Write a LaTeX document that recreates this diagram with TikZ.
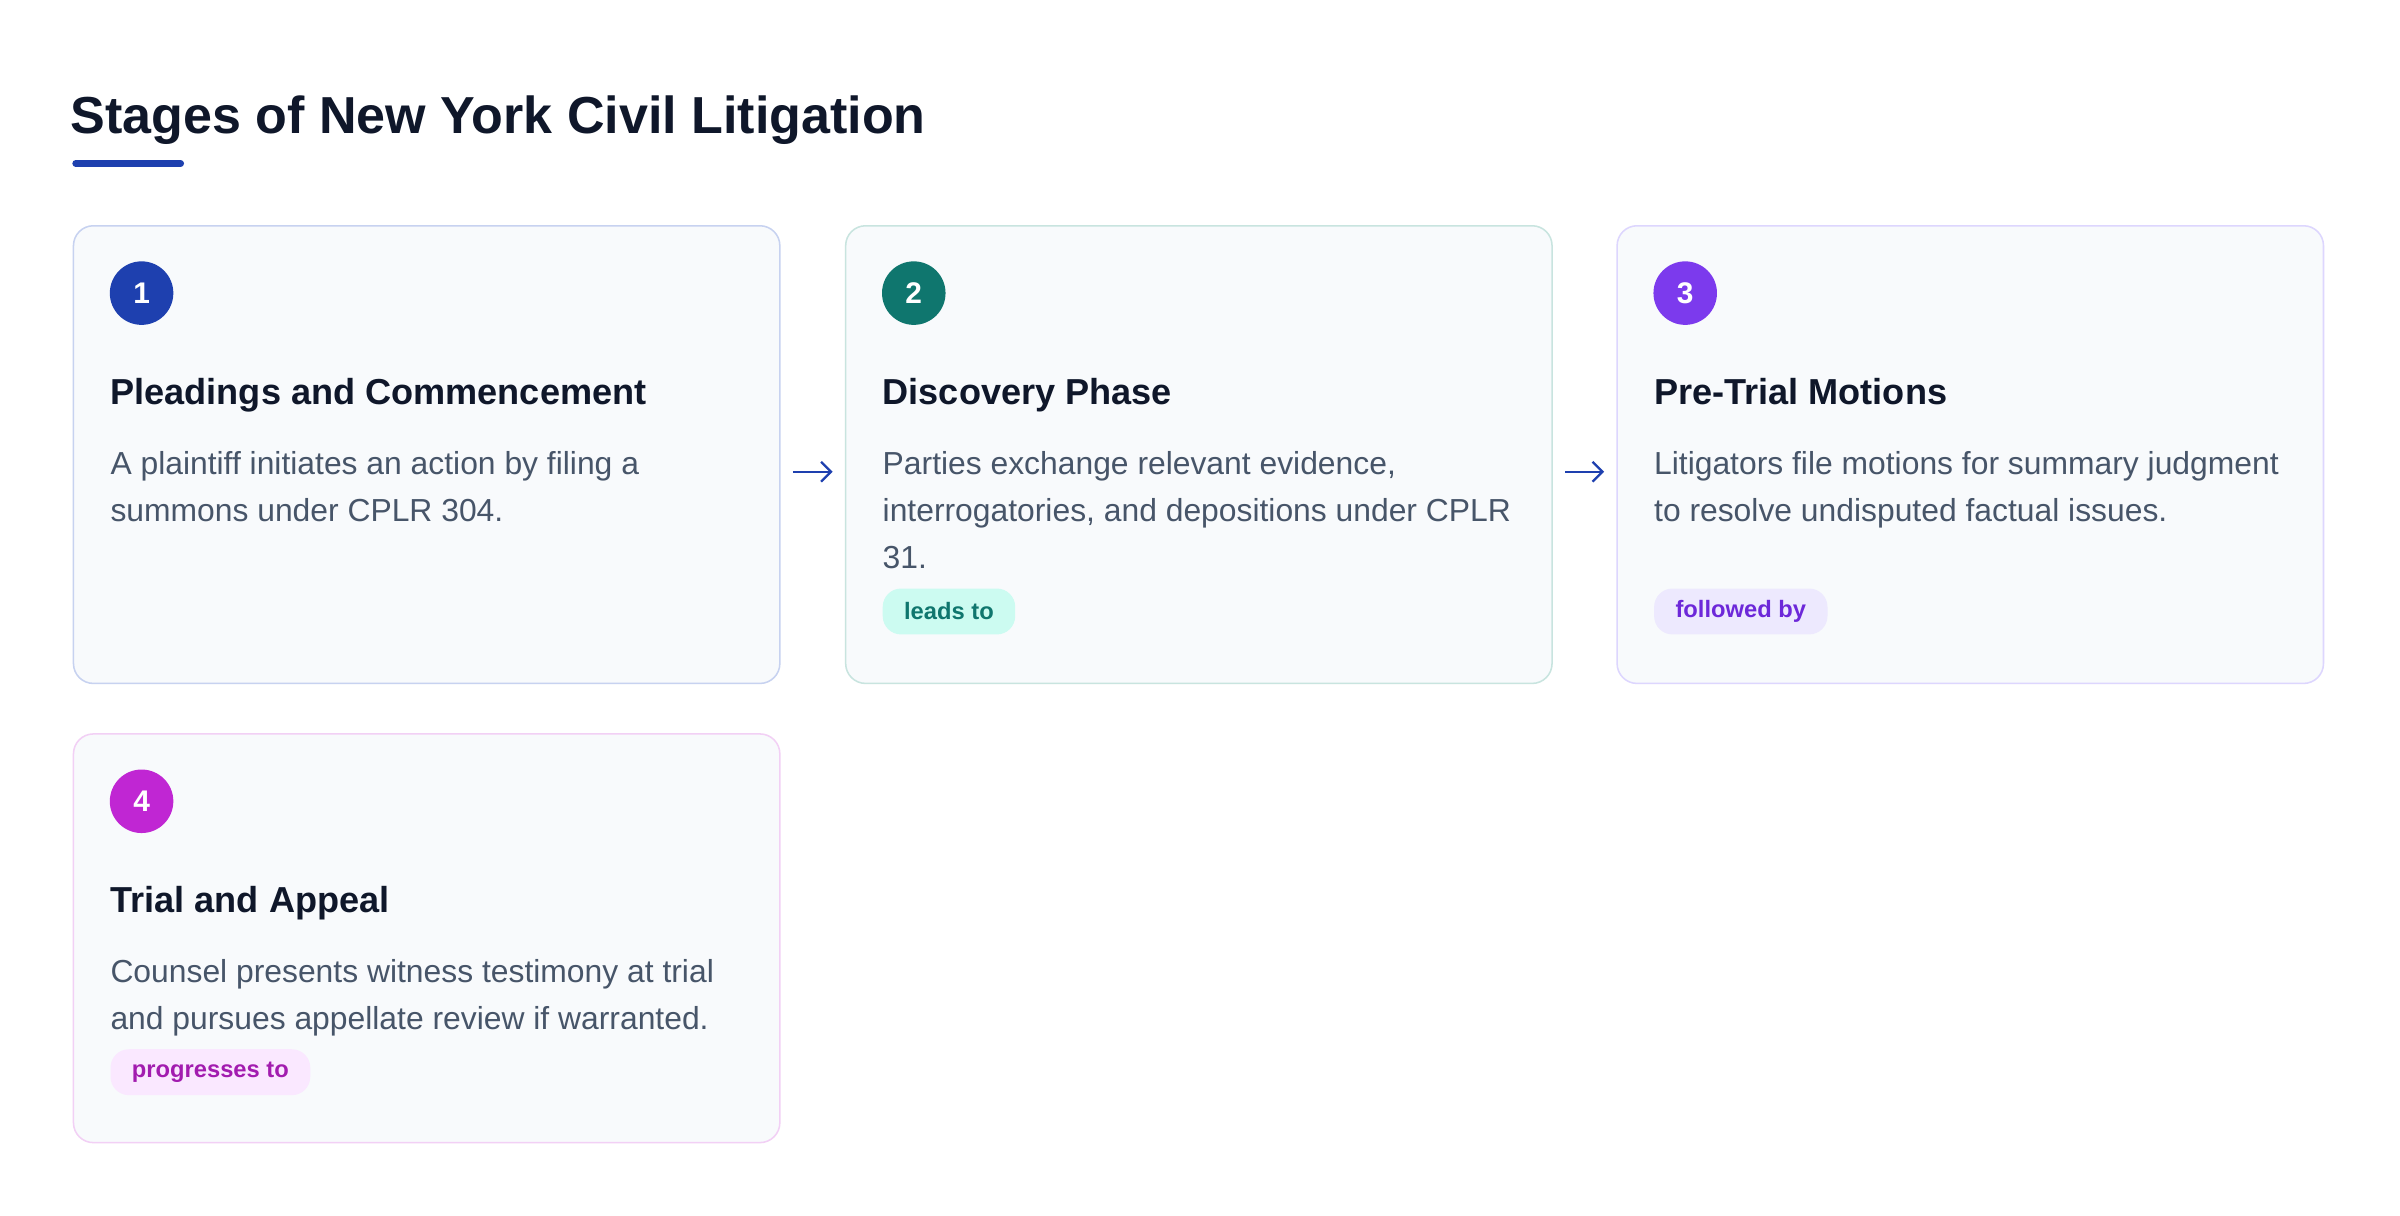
\documentclass[tikz,border=0pt]{standalone}
\usepackage{fontspec}
\setmainfont{Liberation Sans}
\usetikzlibrary{arrows.meta}
\definecolor{titlec}{HTML}{0F172A}
\definecolor{bodyc}{HTML}{475569}
\definecolor{accent}{HTML}{1E40AF}
\definecolor{cardfill}{HTML}{F8FAFC}
\definecolor{bordA}{HTML}{C7D2F0}
\definecolor{bordB}{HTML}{C8E4DF}
\definecolor{bordC}{HTML}{DDD6FE}
\definecolor{bordD}{HTML}{F2D0F5}
\definecolor{numA}{HTML}{1E40AF}
\definecolor{numB}{HTML}{0F766E}
\definecolor{numC}{HTML}{7C3AED}
\definecolor{numD}{HTML}{C026D3}
\definecolor{pillBf}{HTML}{CCFBF1}
\definecolor{pillBt}{HTML}{0F766E}
\definecolor{pillCf}{HTML}{EDE9FE}
\definecolor{pillCt}{HTML}{6D28D9}
\definecolor{pillDf}{HTML}{FAE8FF}
\definecolor{pillDt}{HTML}{A21CAF}
\begin{document}
\begin{tikzpicture}[x=1pt,y=-1pt,
  card/.style={draw, line width=1pt, fill=cardfill, rounded corners=13pt, anchor=north west, inner sep=0pt, minimum width=461.5pt},
  numdot/.style={circle, inner sep=0pt, minimum size=41.5pt, text=white, font=\fontsize{19.5}{22}\selectfont\bfseries},
  headtxt/.style={anchor=base west, inner sep=0pt, text=titlec, font=\fontsize{23.6}{28}\selectfont\bfseries},
  bodytxt/.style={anchor=base west, inner sep=0pt, text=bodyc, font=\fontsize{20.8}{25}\selectfont},
  pill/.style={anchor=west, rounded corners=12pt, inner xsep=14pt, inner ysep=0pt, minimum height=30pt, font=\fontsize{15.5}{18}\selectfont\bfseries},
  flow/.style={draw=accent, line width=1.2pt, -{Straight Barb[length=6.5pt,width=13pt,line width=1.5pt]}, shorten <=8pt, shorten >=8pt}
]
\useasboundingbox[fill=white] (0,0) rectangle (1568,794.45);

% title
\node[anchor=base west, inner sep=0pt, text=titlec, font=\fontsize{34}{40}\selectfont\bfseries] (title) at (46,87.5) {Stages of New York Civil Litigation};
\draw[accent, line width=4.5pt, line cap=round] (49.5,106.8) coordinate (barA) -- (118,106.8) coordinate (barB);

% cards
\node[card, draw=bordA, minimum height=299pt] (b1) at (47.5,147) {};
\node[card, draw=bordB, minimum height=299pt] (b2) at (552,147) {};
\node[card, draw=bordC, minimum height=299pt] (b3) at (1056,147) {};
\node[card, draw=bordD, minimum height=267pt] (b4) at (47.5,479) {};

% number dots
\node[numdot, fill=numA] (n1) at (92.5,191.5) {1};
\node[numdot, fill=numB] (n2) at (597,191.5) {2};
\node[numdot, fill=numC] (n3) at (1101,191.5) {3};
\node[numdot, fill=numD] (n4) at (92.5,523.5) {4};

% headings
\node[headtxt] (h1) at (72,264) {Pleadings and Commencement};
\node[headtxt] (h2) at (576.5,264) {Discovery Phase};
\node[headtxt] (h3) at (1080.5,264) {Pre-Trial Motions};
\node[headtxt] (h4) at (72,596) {Trial and Appeal};

% bodies
\node[bodytxt] (t1a) at (72,309.7) {A plaintiff initiates an action by filing a};
\node[bodytxt] (t1b) at (72,340.4) {summons under CPLR 304.};
\node[bodytxt] (t2a) at (576.5,309.7) {Parties exchange relevant evidence,};
\node[bodytxt] (t2b) at (576.5,340.4) {interrogatories, and depositions under CPLR};
\node[bodytxt] (t2c) at (576.5,371.1) {31.};
\node[bodytxt] (t3a) at (1080.5,309.7) {Litigators file motions for summary judgment};
\node[bodytxt] (t3b) at (1080.5,340.4) {to resolve undisputed factual issues.};
\node[bodytxt] (t4a) at (72,641.7) {Counsel presents witness testimony at trial};
\node[bodytxt] (t4b) at (72,672.4) {and pursues appellate review if warranted.};

% pills
\node[pill, fill=pillBf, text=pillBt] (p2) at (576.5,399.5) {leads to};
\node[pill, fill=pillCf, text=pillCt] (p3) at (1080.5,399.5) {followed by};
\node[pill, fill=pillDf, text=pillDt] (p4) at (72,700.5) {progresses to};

% connectors
\draw[flow] ([yshift=-11.2pt]b1.east) -- ([yshift=-11.2pt]b2.west);
\draw[flow] ([yshift=-11.2pt]b2.east) -- ([yshift=-11.2pt]b3.west);
\end{tikzpicture}
\end{document}
